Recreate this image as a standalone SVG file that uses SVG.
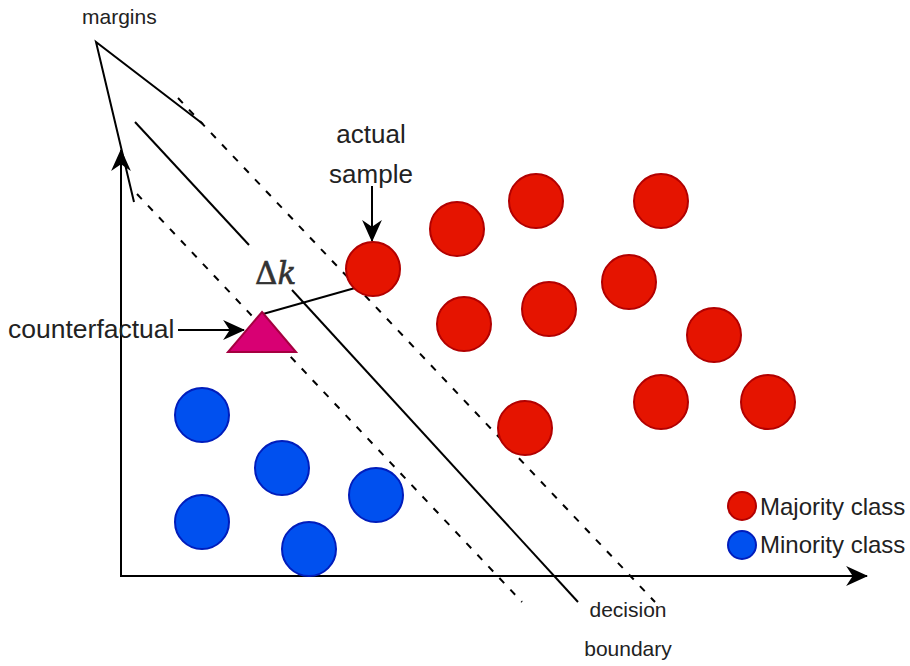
<svg xmlns="http://www.w3.org/2000/svg" width="910" height="666" viewBox="0 0 910 666">
<style>
.maj{fill:#e51400;stroke:#b20000;stroke-width:2}
.min{fill:#0050ef;stroke:#001dbc;stroke-width:2}
.ln{stroke:#000;stroke-width:2;fill:none}
.dash{stroke:#000;stroke-width:2;fill:none;stroke-dasharray:7 9}
.t{font-family:"Liberation Sans",Arial,sans-serif;fill:#222}
</style>
<defs>
<marker id="ahb" viewBox="0 0 10 10" refX="9.5" refY="5" markerWidth="22" markerHeight="22" markerUnits="userSpaceOnUse" orient="auto" preserveAspectRatio="none">
<path d="M0,0.5 L10,5 L0,9.5 L3,5 Z" fill="#000"/>
</marker>
</defs>
<g id="connectors">
<line class="ln" x1="121" y1="577" x2="121" y2="150" marker-end="url(#ahb)"/>
<line class="ln" x1="121" y1="576" x2="867" y2="576" marker-end="url(#ahb)"/>
<polyline class="ln" points="203,124 96,42 134,202"/>
<line class="dash" x1="178" y1="98" x2="655" y2="602"/>
<line class="dash" x1="137" y1="194" x2="522" y2="602"/>
<line class="ln" x1="135" y1="122" x2="249" y2="245"/>
<line class="ln" x1="292" y1="290" x2="578" y2="602"/>
<line class="ln" x1="263" y1="314" x2="355" y2="288"/>
<line class="ln" x1="178" y1="330" x2="244" y2="330" marker-end="url(#ahb)"/>
<line class="ln" x1="372" y1="186" x2="372" y2="241" marker-end="url(#ahb)"/>
</g>
<g id="actual-sample"><circle class="maj" cx="373" cy="269" r="27"/></g>
<g id="majority">
<circle class="maj" cx="457" cy="229" r="27"/>
<circle class="maj" cx="536" cy="201" r="27"/>
<circle class="maj" cx="661" cy="201" r="27"/>
<circle class="maj" cx="464" cy="324" r="27"/>
<circle class="maj" cx="549" cy="309" r="27"/>
<circle class="maj" cx="629" cy="282" r="27"/>
<circle class="maj" cx="714" cy="335" r="27"/>
<circle class="maj" cx="661" cy="402" r="27"/>
<circle class="maj" cx="768" cy="402" r="27"/>
<circle class="maj" cx="525" cy="428" r="27"/>
</g>
<g id="minority">
<circle class="min" cx="202" cy="415" r="27"/>
<circle class="min" cx="282" cy="468" r="27"/>
<circle class="min" cx="376" cy="495" r="27"/>
<circle class="min" cx="202" cy="522" r="27"/>
<circle class="min" cx="309" cy="549" r="27"/>
</g>
<g id="counterfactual-point"><polygon points="262,312 296,352 228,352" fill="#d80073" stroke="#a50040" stroke-width="2"/></g>
<g id="legend">
<circle class="maj" cx="742" cy="506" r="14"/>
<text class="t" x="760" y="515" font-size="24">Majority class</text>
<circle class="min" cx="742" cy="545" r="14"/>
<text class="t" x="760" y="553" font-size="24">Minority class</text>
</g>
<g id="labels">
<text class="t" x="82" y="24" font-size="21">margins</text>
<text class="t" x="371" y="143" font-size="26" text-anchor="middle">actual</text>
<text class="t" x="371" y="183" font-size="26" text-anchor="middle">sample</text>
<text class="t" x="8" y="338" font-size="26.5">counterfactual</text>
<text x="255" y="284" font-size="31" font-family="'DejaVu Serif','Liberation Serif',serif" fill="#333" stroke="#333" stroke-width="0.6">Δ<tspan font-style="italic">k</tspan></text>
<text class="t" x="628" y="617" font-size="21" text-anchor="middle">decision</text>
<text class="t" x="628" y="656" font-size="21" text-anchor="middle">boundary</text>
</g>
</svg>
